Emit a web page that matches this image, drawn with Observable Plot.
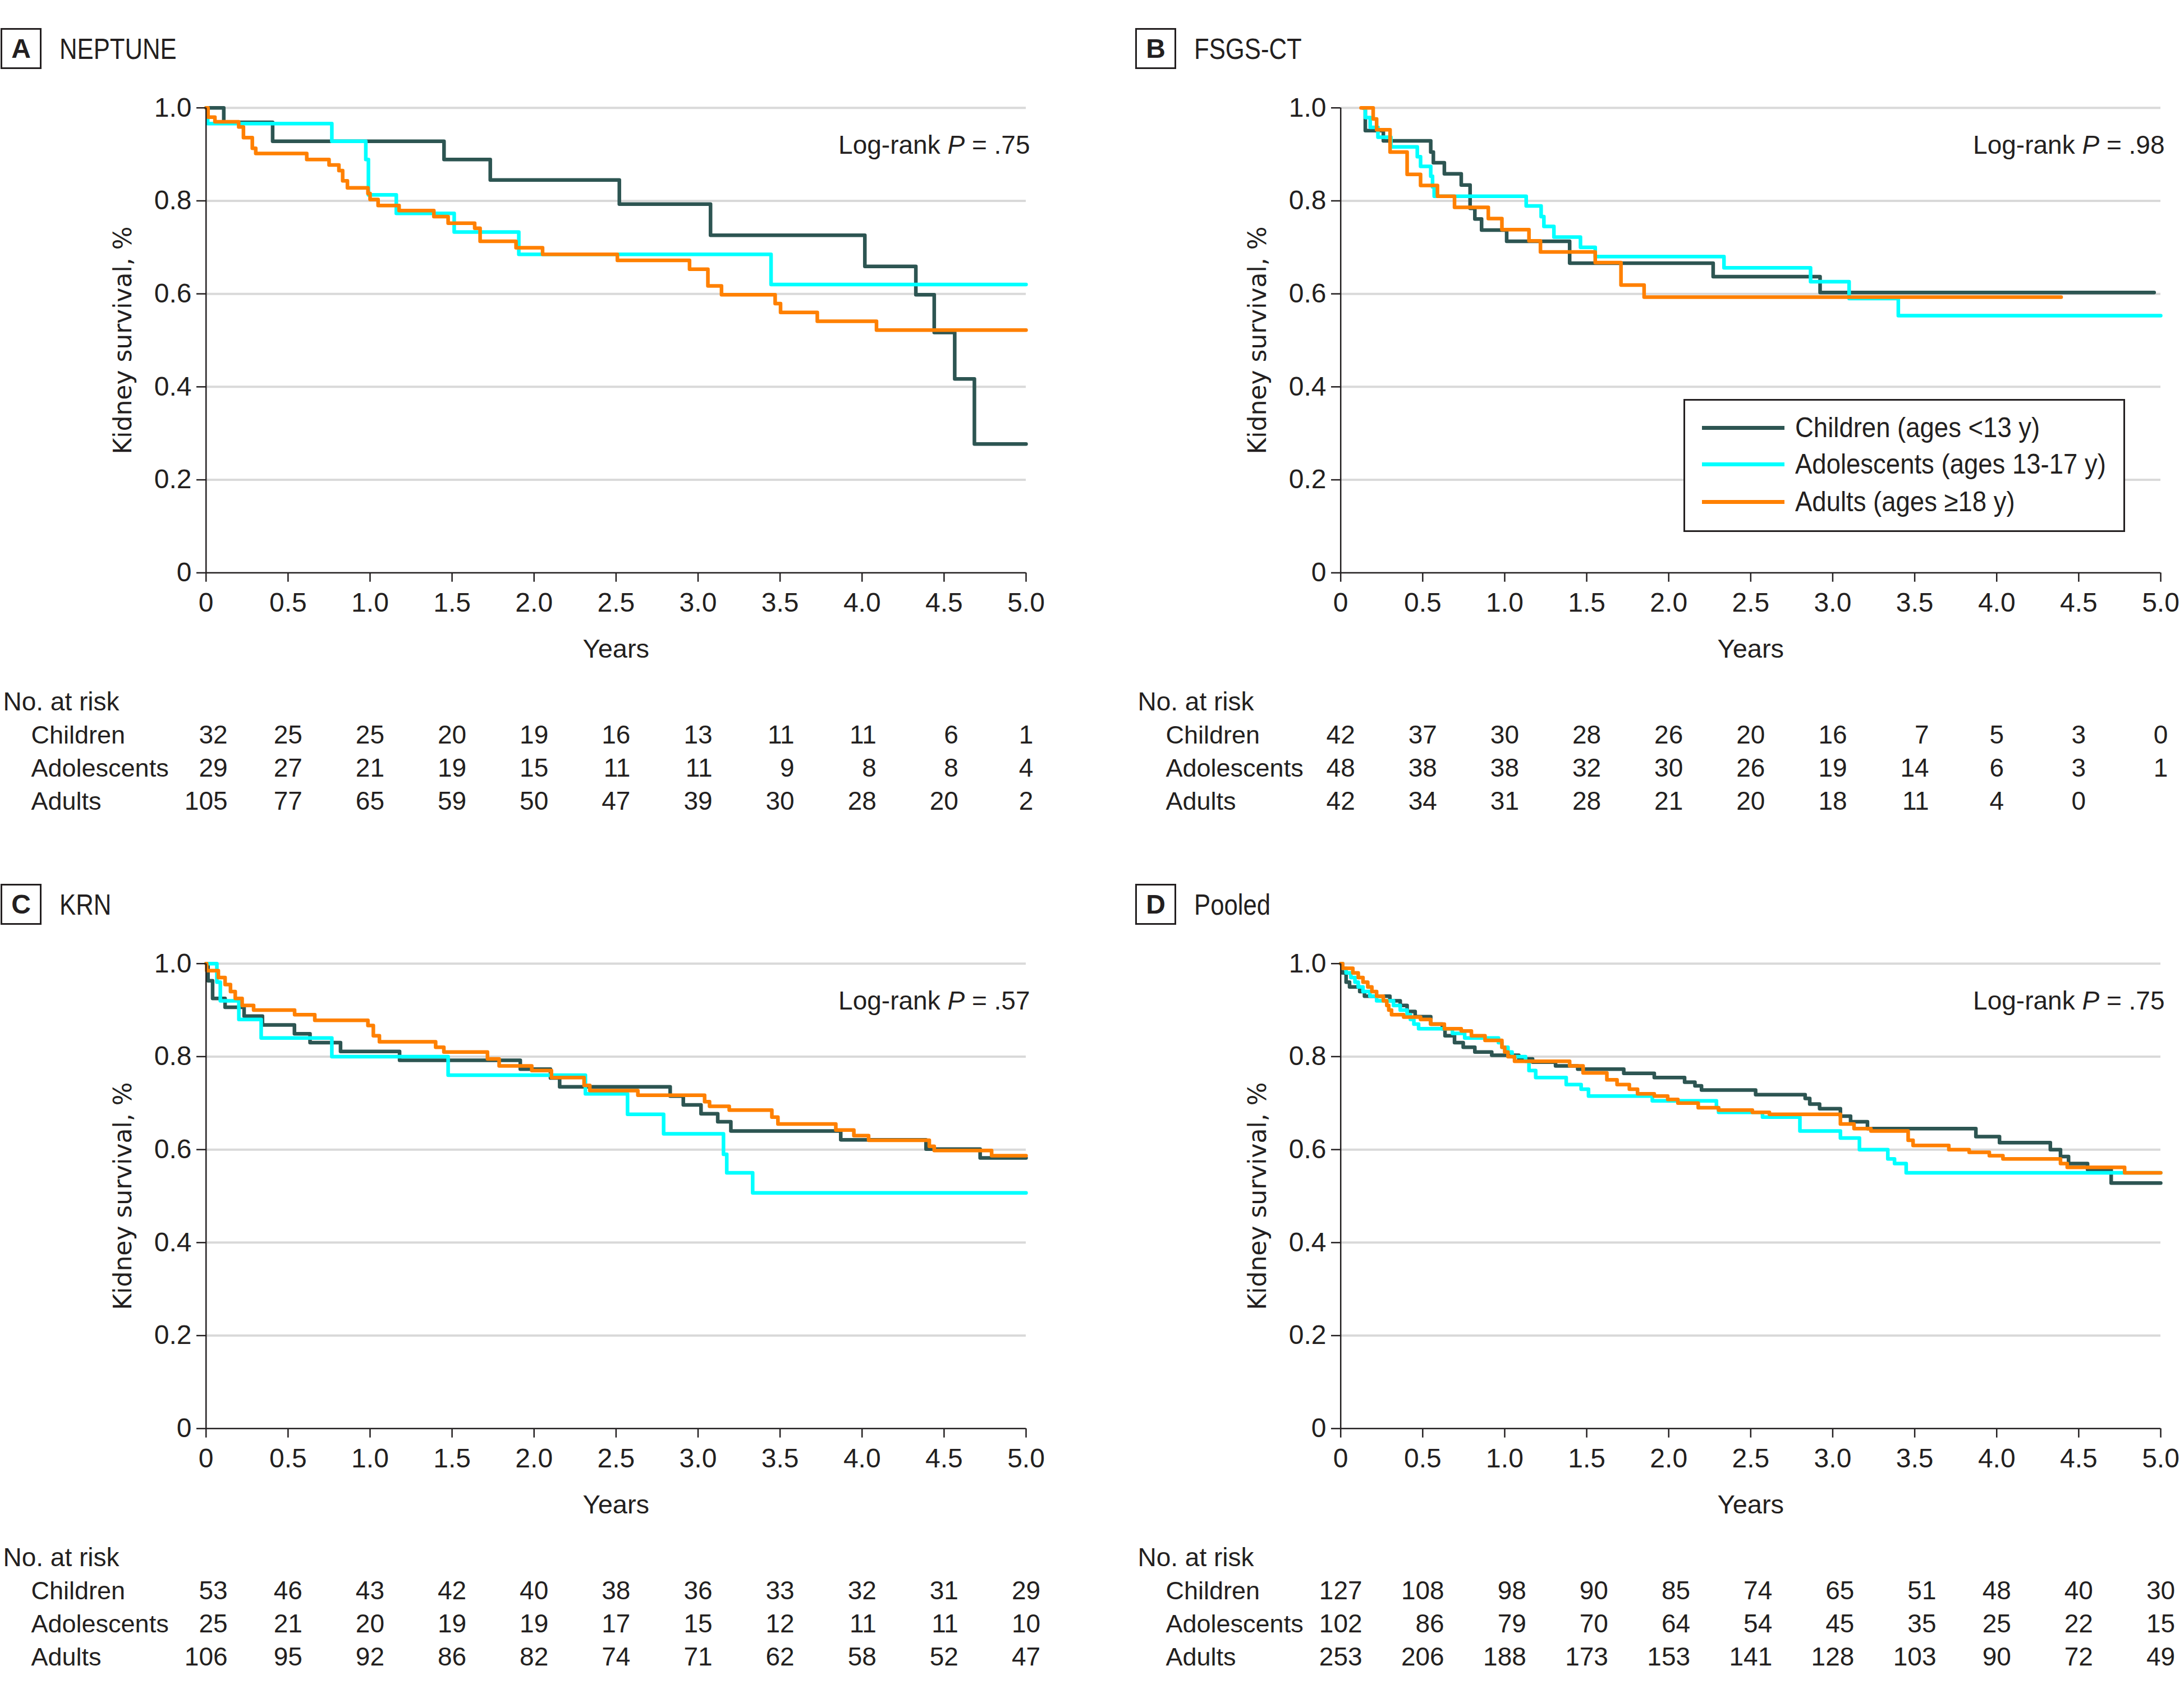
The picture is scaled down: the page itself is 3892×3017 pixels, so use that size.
<!DOCTYPE html>
<html>
<head>
<meta charset="utf-8">
<script src="https://cdn.jsdelivr.net/npm/d3@7"></script>
<script src="https://cdn.jsdelivr.net/npm/@observablehq/plot@0.6"></script>
<style>
  html, body { margin: 0; padding: 0; background: #fff; }
  body { width: 3892px; height: 3017px; position: relative; overflow: hidden;
         font-family: "Liberation Sans", Arial, sans-serif; color: #231f20; }
  .panel { position: absolute; width: 1870px; height: 1490px; }
  .panel svg { position: absolute; left: 0; overflow: visible; }
  .letter { position: absolute; left: 1px; top: 50px; width: 73px; height: 73px; box-sizing: border-box;
            border: 3px solid #231f20; font-weight: bold; font-size: 48px; line-height: 67px; text-align: center; }
  .title { position: absolute; left: 106px; top: 61px; font-size: 52px; line-height: 52px; white-space: nowrap;
           transform: scaleX(0.84); transform-origin: 0 0; }
  .legend { position: absolute; left: 978px; top: 711px; width: 787px; height: 237px; box-sizing: border-box;
            border: 3px solid #231f20; background: #fff; }
  .sw { position: absolute; width: 147px; height: 7px; }
  .lt { position: absolute; font-size: 50px; line-height: 50px; white-space: nowrap;
        transform: scaleX(0.91); transform-origin: 0 0; }
</style>
</head>
<body>
<script>
// ---------------- DATA ----------------
const groups = ["Children (ages <13 y)", "Adolescents (ages 13-17 y)", "Adults (ages ≥18 y)"];
const rowNames = ["Children", "Adolescents", "Adults"];
const colors = ["#2d5552", "#00ffff", "#ff8000"];
const xTicks = [0, 0.5, 1, 1.5, 2, 2.5, 3, 3.5, 4, 4.5, 5];
const yTicks = [0, 0.2, 0.4, 0.6, 0.8, 1.0];
const gridVals = [0.2, 0.4, 0.6, 0.8, 1.0];

const panelLetters = ["A", "B", "C", "D"];
const panelTitles = ["NEPTUNE", "FSGS-CT", "KRN", "Pooled"];
const pValues = [".75", ".98", ".57", ".75"];

// Panel A: NEPTUNE
const A_children_t = [0, 0.108, 0.406, 1.451, 1.733, 2.52, 3.076, 4.017, 4.328, 4.44, 4.565, 4.685, 5.0];
const A_children_s = [1, 0.969, 0.928, 0.889, 0.845, 0.793, 0.726, 0.659, 0.598, 0.517, 0.417, 0.277, 0.277];
const A_adol_t = [0, 0.01, 0.767, 0.974, 0.99, 1.16, 1.513, 1.907, 3.445, 5.0];
const A_adol_s = [1, 0.966, 0.928, 0.889, 0.813, 0.773, 0.733, 0.685, 0.620, 0.620];
const A_adult_t = [0, 0.012, 0.054, 0.199, 0.228, 0.282, 0.303, 0.614, 0.75, 0.81, 0.833, 0.862, 0.987, 1.0, 1.049, 1.177, 1.389, 1.476, 1.638, 1.671, 1.89, 2.052, 2.508, 2.948, 3.06, 3.143, 3.47, 3.503, 3.727, 4.088, 5.0];
const A_adult_s = [1, 0.98, 0.97, 0.959, 0.936, 0.913, 0.902, 0.889, 0.877, 0.865, 0.843, 0.828, 0.816, 0.803, 0.790, 0.779, 0.766, 0.752, 0.741, 0.713, 0.699, 0.685, 0.672, 0.653, 0.617, 0.598, 0.579, 0.560, 0.541, 0.522, 0.522];

// Panel B: FSGS-CT
const B_children_t = [0.136, 0.15, 0.26, 0.549, 0.565, 0.632, 0.735, 0.789, 0.818, 0.859, 1.012, 1.396, 2.271, 2.923, 4.96];
const B_children_s = [1, 0.951, 0.929, 0.905, 0.882, 0.858, 0.834, 0.784, 0.761, 0.737, 0.713, 0.666, 0.637, 0.603, 0.603];
const B_adol_t = [0.136, 0.15, 0.18, 0.227, 0.306, 0.467, 0.487, 0.549, 0.56, 0.57, 1.131, 1.222, 1.239, 1.3, 1.462, 1.552, 2.337, 2.865, 3.1, 3.4, 5.0];
const B_adol_s = [1, 0.979, 0.958, 0.937, 0.916, 0.895, 0.874, 0.853, 0.83, 0.81, 0.789, 0.766, 0.745, 0.722, 0.70, 0.68, 0.656, 0.626, 0.59, 0.553, 0.553];
const B_adult_t = [0.124, 0.198, 0.219, 0.301, 0.405, 0.487, 0.59, 0.694, 0.9, 0.983, 1.148, 1.218, 1.552, 1.709, 1.85, 4.393];
const B_adult_s = [1, 0.976, 0.953, 0.905, 0.857, 0.833, 0.81, 0.786, 0.762, 0.738, 0.714, 0.69, 0.667, 0.619, 0.593, 0.593];

// Panel C: KRN
const C_children_t = [0, 0.012, 0.04, 0.116, 0.232, 0.344, 0.539, 0.634, 0.82, 1.18, 1.916, 2.1, 2.156, 2.83, 2.91, 3.018, 3.12, 3.2, 3.87, 4.39, 4.72, 5.0];
const C_children_s = [1, 0.963, 0.925, 0.906, 0.887, 0.868, 0.849, 0.83, 0.811, 0.792, 0.773, 0.754, 0.735, 0.715, 0.696, 0.677, 0.66, 0.64, 0.621, 0.601, 0.582, 0.582];
const C_adol_t = [0, 0.066, 0.087, 0.2, 0.336, 0.767, 1.476, 2.313, 2.57, 2.79, 3.155, 3.175, 3.333, 5.0];
const C_adol_s = [1, 0.96, 0.92, 0.88, 0.84, 0.80, 0.76, 0.72, 0.676, 0.634, 0.59, 0.55, 0.507, 0.507];
const C_adult_t = [0, 0.004, 0.075, 0.116, 0.149, 0.178, 0.22, 0.29, 0.54, 0.663, 0.987, 1.02, 1.057, 1.4, 1.45, 1.716, 1.787, 1.986, 2.106, 2.305, 2.34, 2.633, 3.04, 3.07, 3.19, 3.45, 3.487, 3.84, 3.95, 4.04, 4.41, 4.44, 4.79, 5.0];
const C_adult_s = [1, 0.985, 0.97, 0.955, 0.94, 0.925, 0.91, 0.9, 0.89, 0.878, 0.867, 0.845, 0.832, 0.82, 0.81, 0.795, 0.78, 0.77, 0.755, 0.738, 0.727, 0.717, 0.703, 0.693, 0.685, 0.67, 0.655, 0.642, 0.63, 0.62, 0.607, 0.598, 0.587, 0.587];

// Panel D: Pooled
const D_children_t = [0, 0.01, 0.033, 0.054, 0.116, 0.145, 0.3, 0.363, 0.405, 0.454, 0.549, 0.62, 0.636, 0.694, 0.747, 0.818, 0.921, 1.086, 1.17, 1.31, 1.445, 1.726, 1.912, 2.097, 2.16, 2.2, 2.53, 2.832, 2.86, 2.92, 3.047, 3.109, 3.212, 3.873, 4.017, 4.327, 4.389, 4.438, 4.554, 4.698, 5.0];
const D_children_s = [1, 0.98, 0.96, 0.95, 0.94, 0.93, 0.92, 0.91, 0.897, 0.886, 0.87, 0.86, 0.845, 0.83, 0.82, 0.81, 0.803, 0.795, 0.788, 0.78, 0.773, 0.764, 0.755, 0.745, 0.737, 0.728, 0.718, 0.71, 0.698, 0.688, 0.672, 0.66, 0.645, 0.628, 0.615, 0.60, 0.585, 0.57, 0.557, 0.528, 0.528];
const D_adol_t = [0, 0.012, 0.033, 0.062, 0.087, 0.107, 0.136, 0.178, 0.219, 0.322, 0.363, 0.405, 0.425, 0.446, 0.475, 0.681, 0.756, 0.962, 0.983, 1.02, 1.045, 1.127, 1.148, 1.189, 1.375, 1.466, 1.511, 1.9, 2.291, 2.304, 2.572, 2.8, 3.047, 3.163, 3.336, 3.377, 3.448, 5.0];
const D_adol_s = [1, 0.99, 0.98, 0.97, 0.96, 0.95, 0.94, 0.93, 0.92, 0.91, 0.90, 0.89, 0.88, 0.87, 0.86, 0.85, 0.84, 0.83, 0.82, 0.81, 0.80, 0.79, 0.77, 0.755, 0.74, 0.73, 0.715, 0.705, 0.69, 0.68, 0.67, 0.64, 0.625, 0.60, 0.58, 0.57, 0.55, 0.55];
const D_adult_t = [0, 0.012, 0.074, 0.107, 0.136, 0.165, 0.19, 0.219, 0.26, 0.281, 0.293, 0.31, 0.384, 0.487, 0.549, 0.632, 0.735, 0.797, 0.88, 0.983, 1.0, 1.02, 1.06, 1.396, 1.478, 1.623, 1.685, 1.76, 1.81, 1.912, 1.994, 2.056, 2.18, 2.304, 2.51, 2.614, 3.047, 3.13, 3.233, 3.46, 3.49, 3.708, 3.832, 3.955, 4.038, 4.389, 4.43, 4.78, 5.0];
const D_adult_s = [1, 0.99, 0.98, 0.97, 0.96, 0.95, 0.94, 0.93, 0.92, 0.91, 0.90, 0.89, 0.885, 0.88, 0.87, 0.86, 0.855, 0.845, 0.835, 0.82, 0.81, 0.80, 0.79, 0.78, 0.765, 0.75, 0.74, 0.73, 0.72, 0.715, 0.708, 0.70, 0.69, 0.685, 0.68, 0.676, 0.655, 0.645, 0.64, 0.62, 0.609, 0.60, 0.594, 0.587, 0.58, 0.57, 0.562, 0.55, 0.55];

// Numbers at risk
const A_risk_children = [32, 25, 25, 20, 19, 16, 13, 11, 11, 6, 1];
const A_risk_adol = [29, 27, 21, 19, 15, 11, 11, 9, 8, 8, 4];
const A_risk_adult = [105, 77, 65, 59, 50, 47, 39, 30, 28, 20, 2];
const B_risk_children = [42, 37, 30, 28, 26, 20, 16, 7, 5, 3, 0];
const B_risk_adol = [48, 38, 38, 32, 30, 26, 19, 14, 6, 3, 1];
const B_risk_adult = [42, 34, 31, 28, 21, 20, 18, 11, 4, 0];
const C_risk_children = [53, 46, 43, 42, 40, 38, 36, 33, 32, 31, 29];
const C_risk_adol = [25, 21, 20, 19, 19, 17, 15, 12, 11, 11, 10];
const C_risk_adult = [106, 95, 92, 86, 82, 74, 71, 62, 58, 52, 47];
const D_risk_children = [127, 108, 98, 90, 85, 74, 65, 51, 48, 40, 30];
const D_risk_adol = [102, 86, 79, 70, 64, 54, 45, 35, 25, 22, 15];
const D_risk_adult = [253, 206, 188, 173, 153, 141, 128, 103, 90, 72, 49];

// ---------------- BUILD ----------------
const curves = [
  [[A_children_t, A_children_s], [A_adol_t, A_adol_s], [A_adult_t, A_adult_s]],
  [[B_children_t, B_children_s], [B_adol_t, B_adol_s], [B_adult_t, B_adult_s]],
  [[C_children_t, C_children_s], [C_adol_t, C_adol_s], [C_adult_t, C_adult_s]],
  [[D_children_t, D_children_s], [D_adol_t, D_adol_s], [D_adult_t, D_adult_s]]
];
const risks = [
  [A_risk_children, A_risk_adol, A_risk_adult],
  [B_risk_children, B_risk_adol, B_risk_adult],
  [C_risk_children, C_risk_adol, C_risk_adult],
  [D_risk_children, D_risk_adol, D_risk_adult]
];

const FONT = "'Liberation Sans', Arial, sans-serif";
const INK = "#231f20";
const W = 1870;
const ML = 366.7, MR = 42;
const fmt = d => d === 0 ? "0" : d.toFixed(1);
const digitW = 0.556 * 46;

const layout = [{left: 0, top: 0}, {left: 2022, top: 0}, {left: 0, top: 1525.4}, {left: 2022, top: 1525.4}];

function survivalPlot(i) {
  const data = [];
  curves[i].forEach(([t, s], g) => t.forEach((d, k) => data.push({group: groups[g], t: d, s: s[k]})));
  const pText = `Log-rank P = ${pValues[i]}`;
  const svg = Plot.plot({
    width: W, height: 1200,
    marginLeft: ML, marginRight: MR, marginTop: 191.7, marginBottom: 179.7,
    x: {domain: [0, 5]},
    y: {domain: [0, 1]},
    color: {domain: groups, range: colors},
    style: {fontFamily: FONT, fontSize: "46px", color: INK, background: "transparent"},
    marks: [
      Plot.ruleY(gridVals, {stroke: "#d9d9d9", strokeWidth: 4}),
      Plot.line(data, {x: "t", y: "s", z: "group", stroke: "group", curve: "step-after", strokeWidth: 6.5}),
      Plot.ruleX([0], {stroke: INK, strokeWidth: 2.5}),
      Plot.ruleY([0], {stroke: INK, strokeWidth: 2.5}),
      Plot.axisX({ticks: xTicks, tickFormat: fmt, tickSize: 16.4, tickPadding: 18.3, fontSize: 48, strokeWidth: 2.5, label: null}),
      Plot.axisY({ticks: yTicks, tickFormat: fmt, tickSize: 16.7, tickPadding: 9, fontSize: 48, strokeWidth: 2.5, label: null}),
      Plot.text(["Years"], {frameAnchor: "bottom", lineAnchor: "bottom", dy: 150.7, fontSize: 47}),
      Plot.text(["Kidney survival, %"], {frameAnchor: "left", textAnchor: "middle", lineAnchor: "middle", rotate: -90, dx: -147.7,
        fontFamily: "'DejaVu Sans', Verdana, sans-serif", fontSize: 44}),
      Plot.text([pText], {frameAnchor: "top-right", textAnchor: "end", lineAnchor: "bottom", dx: 7, dy: 82, fontSize: 46})
    ]
  });
  svg.querySelectorAll("text").forEach(t => {
    if (t.textContent === pText) {
      t.innerHTML = `Log-rank <tspan font-style="italic">P</tspan> = ${pValues[i]}`;
    }
  });
  return svg;
}

function riskPlot(i) {
  const yDomain = ["No. at risk", ...rowNames];
  const colMarks = xTicks.map((x, j) => {
    const rows = rowNames.map((r, g) => ({row: r, x, v: risks[i][g][j]})).filter(d => d.v != null);
    const maxLen = d3.max(rows, d => String(d.v).length);
    return Plot.text(rows, {x: "x", y: "row", text: d => String(d.v), textAnchor: "end", lineAnchor: "bottom",
      dx: maxLen * digitW / 2, fontSize: 46});
  });
  return Plot.plot({
    width: W, height: 280,
    marginLeft: ML, marginRight: MR, marginTop: 0, marginBottom: 0,
    x: {domain: [0, 5], axis: null},
    y: {type: "point", domain: yDomain, range: [64, 242], padding: 0, axis: null},
    style: {fontFamily: FONT, fontSize: "46px", color: INK, background: "transparent"},
    marks: [
      ...colMarks,
      Plot.text(["No. at risk"], {y: d => d, frameAnchor: "left", textAnchor: "start", lineAnchor: "bottom", dx: 5 - ML, fontSize: 46}),
      Plot.text(rowNames, {y: d => d, frameAnchor: "left", textAnchor: "start", lineAnchor: "bottom", dx: 55 - ML, fontSize: 45})
    ]
  });
}

layout.forEach((pos, i) => {
  const panel = document.createElement("div");
  panel.className = "panel";
  panel.style.left = pos.left + "px";
  panel.style.top = pos.top + "px";
  document.body.appendChild(panel);

  const s = survivalPlot(i);
  s.style.top = "0px";
  panel.appendChild(s);
  const r = riskPlot(i);
  r.style.top = "1200px";
  panel.appendChild(r);

  const letter = document.createElement("div");
  letter.className = "letter";
  letter.textContent = panelLetters[i];
  panel.appendChild(letter);
  const title = document.createElement("div");
  title.className = "title";
  title.textContent = panelTitles[i];
  panel.appendChild(title);

  if (i === 1) {
    const leg = document.createElement("div");
    leg.className = "legend";
    panel.appendChild(leg);
    const centers = [762, 827, 894];
    groups.forEach((g, k) => {
      const sw = document.createElement("div");
      sw.className = "sw";
      sw.style.left = "1011px";
      sw.style.top = (centers[k] - 3.5) + "px";
      sw.style.background = colors[k];
      panel.appendChild(sw);
      const lt = document.createElement("div");
      lt.className = "lt";
      lt.style.left = "1177px";
      lt.style.top = (centers[k] - 25) + "px";
      lt.textContent = g;
      panel.appendChild(lt);
    });
  }
});
</script>
</body>
</html>
